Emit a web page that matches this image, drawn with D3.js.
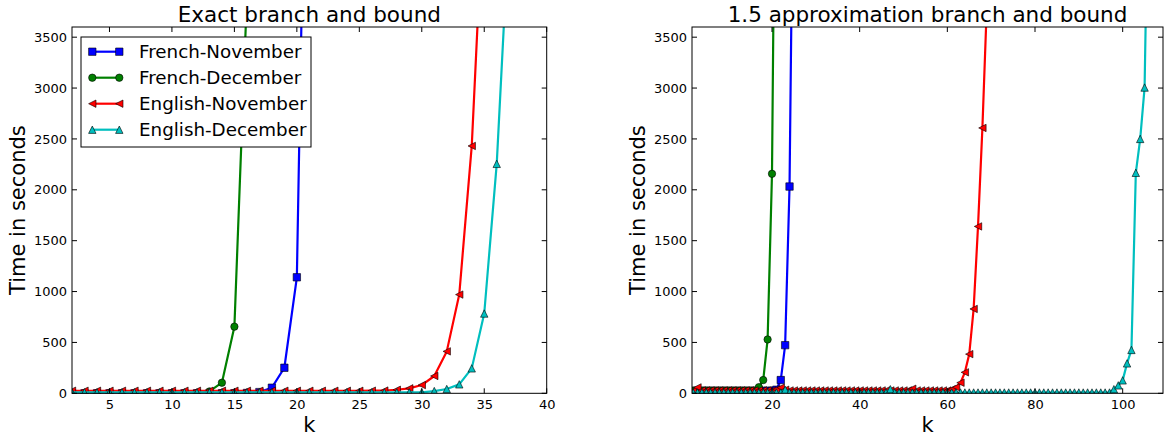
<!DOCTYPE html>
<html><head><meta charset="utf-8">
<script src="https://cdnjs.cloudflare.com/ajax/libs/d3/7.8.5/d3.min.js"></script>
<style>body{margin:0;background:#fff}svg{display:block}text{font-family:"DejaVu Sans",sans-serif;fill:#000}</style>
</head><body>
<script>
// ---------- data ----------
const seriesNames = ["French-November","French-December","English-November","English-December"];
const seriesColors = ["#0000ff","#008000","#ff0000","#00bfbf"];
const seriesMarkers = ["square","circle","triangleLeft","triangleUp"];

const leftTitle = "Exact branch and bound";
const rightTitle = "1.5 approximation branch and bound";
const yTicks = [0,500,1000,1500,2000,2500,3000,3500];
const leftXTicks = [5,10,15,20,25,30,35,40];
const rightXTicks = [20,40,60,80,100];

// first k of every series is 2
const leftFrenchNov = [0,0,0,0,0,0,0,0,0,0,0,0,0,1,3,12,55,251,1140,8000];
const leftFrenchDec = [0,0,0,0,0,0,0,0,0,0,0,18,104,655,3900];
const leftEnglishNov = [25,25,25,25,25,25,25,25,25,25,25,25,25,25,25,25,25,25,25,25,25,25,25,25,26,27,35,49,81,170,412,970,2431,5000];
const leftEnglishDec = [10,10,10,10,10,10,10,10,10,10,10,10,10,10,10,10,10,10,10,10,10,10,10,10,10,10,10,10,10,22,42,88,245,784,2255,4640];

const rightFrenchNov = [25,25,25,25,25,25,25,25,25,25,25,25,25,25,25,25,25,25,25,35,130,473,2032,6000];
const rightFrenchDec = [25,25,25,25,25,25,25,25,25,25,25,25,25,25,25,60,130,529,2157,7000];
const rightEnglishNov = [25,58,28,28,28,28,28,28,28,28,28,28,28,28,28,28,28,28,28,40,55,35,
  28,28,28,28,28,28,28,28,28,28,28,28,28,28,28,28,28,28,28,28,28,28,28,28,28,28,28,28,45,
  28,28,28,28,28,28,28,28,40,59,104,206,385,829,1640,2608,3800];
const rightEnglishDec = [8,8,8,8,8,8,8,8,8,8,8,8,8,8,8,8,8,8,8,8,8,35,
  8,8,8,8,8,8,8,8,8,8,8,8,8,8,8,8,8,8,8,8,8,8,8,40,
  8,8,8,8,8,8,8,8,8,8,8,8,8,8,8,8,8,8,8,8,8,8,8,8,8,8,8,8,8,8,8,8,8,8,8,8,8,8,8,8,8,8,8,8,8,8,8,8,8,8,
  40,78,127,294,426,2167,2500,3005,5580];
const kStart = 2;

// ---------- layout ----------
const W = 1164, H = 436;
const svg = d3.select("body").append("svg").attr("width", W).attr("height", H);
svg.append("rect").attr("width", W).attr("height", H).attr("fill", "#fff");

const panels = [
  {id:"L", x0:72, x1:546.7, y0:27, y1:393.3, xdom:[2,40], xticks:leftXTicks, title:leftTitle,
   data:[leftFrenchNov,leftFrenchDec,leftEnglishNov,leftEnglishDec], legend:true},
  {id:"R", x0:692, x1:1163, y0:27, y1:393.3, xdom:[1.75,109.2], xticks:rightXTicks, title:rightTitle,
   data:[rightFrenchNov,rightFrenchDec,rightEnglishNov,rightEnglishDec], legend:false}
];

const MS = 7.4;
function markerPath(type){
  const h = MS/2;
  if(type==="square") return `M${-h},${-h}H${h}V${h}H${-h}Z`;
  if(type==="circle") return d3.symbol(d3.symbolCircle, Math.PI*h*h)();
  if(type==="triangleLeft") return `M${-h},0L${h},${-h}L${h},${h}Z`;
  if(type==="triangleUp") return `M0,${-h}L${h},${h}L${-h},${h}Z`;
}

panels.forEach(p => {
  const x = d3.scaleLinear().domain(p.xdom).range([p.x0, p.x1]);
  const y = d3.scaleLinear().domain([0,3600]).range([p.y1, p.y0]);
  const g = svg.append("g");
  g.append("clipPath").attr("id","clip"+p.id).append("rect")
    .attr("x",p.x0).attr("y",p.y0).attr("width",p.x1-p.x0).attr("height",p.y1-p.y0);
  const plot = g.append("g").attr("clip-path",`url(#clip${p.id})`);
  const line = d3.line().x(d=>x(d.k)).y(d=>y(d.v));
  p.data.forEach((vals,i)=>{
    const pts = vals.map((v,j)=>({k:kStart+j, v}));
    plot.append("path").datum(pts).attr("d",line).attr("fill","none")
      .attr("stroke",seriesColors[i]).attr("stroke-width",2.2).attr("stroke-linejoin","round");
    plot.selectAll(null).data(pts).enter().append("path")
      .attr("d",markerPath(seriesMarkers[i]))
      .attr("transform",d=>`translate(${x(d.k)},${y(d.v)})`)
      .attr("fill",seriesColors[i]).attr("stroke","#000").attr("stroke-width",0.6);
  });

  // axes (inward ticks on all sides)
  const tl = 5;
  const axB = d3.axisBottom(x).tickValues(p.xticks).tickFormat(d3.format("d")).tickSize(0).tickPadding(6);
  const gb = g.append("g").attr("transform",`translate(0,${p.y1})`).call(axB);
  gb.select(".domain").remove();
  gb.selectAll("text").attr("font-size",13).attr("font-family","DejaVu Sans");
  const axL = d3.axisLeft(y).tickValues(yTicks).tickFormat(d3.format("d")).tickSize(0).tickPadding(5);
  const gl = g.append("g").attr("transform",`translate(${p.x0},0)`).call(axL);
  gl.select(".domain").remove();
  gl.selectAll("text").attr("font-size",13).attr("font-family","DejaVu Sans");
  const tk = g.append("g").attr("stroke","#000").attr("stroke-width",1);
  p.xticks.forEach(t=>{
    tk.append("line").attr("x1",x(t)).attr("x2",x(t)).attr("y1",p.y1).attr("y2",p.y1-tl);
    tk.append("line").attr("x1",x(t)).attr("x2",x(t)).attr("y1",p.y0).attr("y2",p.y0+tl);
  });
  yTicks.forEach(t=>{
    tk.append("line").attr("x1",p.x0).attr("x2",p.x0+tl).attr("y1",y(t)).attr("y2",y(t));
    tk.append("line").attr("x1",p.x1).attr("x2",p.x1-tl).attr("y1",y(t)).attr("y2",y(t));
  });
  g.append("rect").attr("x",p.x0).attr("y",p.y0).attr("width",p.x1-p.x0).attr("height",p.y1-p.y0)
    .attr("fill","none").attr("stroke","#000").attr("stroke-width",1);

  const cx = (p.x0+p.x1)/2;
  g.append("text").attr("x",cx).attr("y",21.5).attr("text-anchor","middle").attr("font-size",21.5).text(p.title);
  g.append("text").attr("x",cx).attr("y",432).attr("text-anchor","middle").attr("font-size",21).text("k");
  g.append("text").attr("transform",`translate(${p.x0-47},${(p.y0+p.y1)/2}) rotate(-90)`)
    .attr("text-anchor","middle").attr("font-size",21).text("Time in seconds");

  if(p.legend){
    const lg = g.append("g");
    lg.append("rect").attr("x",81).attr("y",37).attr("width",230).attr("height",110)
      .attr("fill","#fff").attr("stroke","#000").attr("stroke-width",1);
    seriesNames.forEach((name,i)=>{
      const yy = 51.7 + i*26;
      lg.append("line").attr("x1",92.3).attr("x2",119.3).attr("y1",yy).attr("y2",yy)
        .attr("stroke",seriesColors[i]).attr("stroke-width",2.2);
      [92.3,119.3].forEach(mx=>{
        lg.append("path").attr("d",markerPath(seriesMarkers[i])).attr("transform",`translate(${mx},${yy})`)
          .attr("fill",seriesColors[i]).attr("stroke","#000").attr("stroke-width",0.6);
      });
      lg.append("text").attr("x",139).attr("y",yy).attr("dy","0.36em").attr("font-size",18.3).text(name);
    });
  }
});
</script>
</body></html>
